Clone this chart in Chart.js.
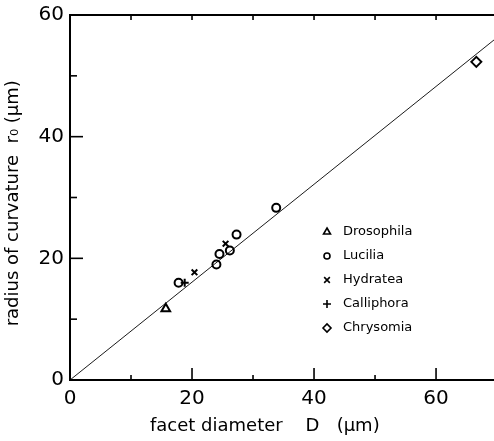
<!DOCTYPE html>
<html><head><meta charset="utf-8">
<script src="https://cdn.jsdelivr.net/npm/chart.js@4"></script>
<style>html,body{margin:0;padding:0;background:#fff;overflow:hidden}#wrap{width:494px;height:441px}</style>
</head><body><div id="wrap"><canvas id="c" width="494" height="441"></canvas></div>
<script>
const drosophila = [{x:15.7,y:11.7}];
const lucilia = [{x:17.8,y:16.0},{x:24.0,y:19.0},{x:24.5,y:20.7},{x:26.2,y:21.3},{x:27.3,y:23.9},{x:33.8,y:28.3}];
const hydratea = [{x:20.4,y:17.7},{x:25.5,y:22.4}];
const calliphora = [{x:18.8,y:16.0}];
const chrysomia = [{x:66.6,y:52.3}];
const fitLine = [{x:0,y:0},{x:70,y:56.3}];
const legendLabels = ['Drosophila','Lucilia','Hydratea','Calliphora','Chrysomia'];
const legendStyles = ['triangle','circle','crossRot','cross','rectRot'];
const xTicks = [0,20,40,60];
const yTicks = [0,20,40,60];
const xMinor = [10,30,50];
const yMinor = [10,30,50];

const FONT = '"DejaVu Sans", sans-serif';
function ds(label, data, style, r){
  return {type:'scatter', label, data, pointStyle:style, pointRadius:r, pointHoverRadius:r,
    borderColor:'#000', backgroundColor:'rgba(255,255,255,0)', pointBorderWidth:2, showLine:false};
}
const deco = {
  id:'deco',
  afterDraw(chart){
    const c = chart.ctx, xs = chart.scales.x, ys = chart.scales.y, a = chart.chartArea;
    c.save(); c.strokeStyle='#000';
    c.lineWidth=2; c.beginPath(); c.moveTo(a.left, a.top); c.lineTo(a.right, a.top); c.stroke();
    c.lineWidth=1.6;
    const line=(x1,y1,x2,y2)=>{c.beginPath();c.moveTo(x1,y1);c.lineTo(x2,y2);c.stroke();};
    xTicks.forEach(v=>{ if(v===0) return; const p=xs.getPixelForValue(v); line(p,a.bottom,p,a.bottom-12); line(p,a.top,p,a.top+5);});
    xMinor.forEach(v=>{ const p=xs.getPixelForValue(v); line(p,a.bottom,p,a.bottom-5); line(p,a.top,p,a.top+5);});
    yTicks.forEach(v=>{ if(v===0||v===60) return; const p=ys.getPixelForValue(v); line(a.left,p,a.left+13,p);});
    yMinor.forEach(v=>{ const p=ys.getPixelForValue(v); line(a.left,p,a.left+7,p);});
    c.font = '13px '+FONT; c.textBaseline='middle'; c.textAlign='left';
    const lx=327, ly0=232, step=24;
    legendLabels.forEach((t,i)=>{
      const y=ly0+i*step;
      c.lineWidth=1.6; c.fillStyle='rgba(255,255,255,0)'; c.strokeStyle='#000';
      Chart.helpers.drawPoint(c,{pointStyle:legendStyles[i], radius: legendStyles[i]==='circle'?3:4, borderWidth:1.6}, lx, y);
      c.fillStyle='#000';
      c.fillText(t, lx+16, y);
    });
    c.restore();
  }
};
new Chart(document.getElementById('c'), {
  data:{datasets:[
    {type:'line', label:'fit', data:fitLine, borderColor:'#000', borderWidth:0.9, pointRadius:0, fill:false, tension:0},
    ds('Drosophila', drosophila, 'triangle', 5),
    ds('Lucilia', lucilia, 'circle', 4),
    ds('Hydratea', hydratea, 'crossRot', 4),
    ds('Calliphora', calliphora, 'cross', 4),
    ds('Chrysomia', chrysomia, 'rectRot', 5)
  ]},
  options:{
    responsive:false, animation:false, clip:false,
    layout:{autoPadding:false, padding:{top:15,right:0,left:0,bottom:0}},
    plugins:{legend:{display:false}, tooltip:{enabled:false}},
    scales:{
      x:{type:'linear', min:0, max:69.5,
        afterFit(s){ s.height=61; s.paddingLeft=0; s.paddingRight=0; },
        grid:{display:false, drawTicks:false},
        border:{display:true, color:'#000', width:2},
        afterBuildTicks(s){ s.ticks = xTicks.map(v=>({value:v})); },
        ticks:{padding:7, color:'#000', font:{family:FONT, size:20}, maxRotation:0},
        title:{display:true, text:'facet diameter    D   (μm)      ', color:'#000', font:{family:FONT, size:18}, padding:{top:0,bottom:4}}
      },
      y:{type:'linear', min:0, max:60,
        afterFit(s){ s.width=70; s.paddingTop=0; s.paddingBottom=0; },
        grid:{display:false, drawTicks:false},
        border:{display:true, color:'#000', width:2},
        afterBuildTicks(s){ s.ticks = yTicks.map(v=>({value:v})); },
        ticks:{padding:6, color:'#000', font:{family:FONT, size:20}},
        title:{display:true, text:'radius of curvature  r₀ (μm)  ', color:'#000', font:{family:FONT, size:18}, padding:{top:3,bottom:0}}
      }
    }
  },
  plugins:[deco]
});
</script></body></html>
